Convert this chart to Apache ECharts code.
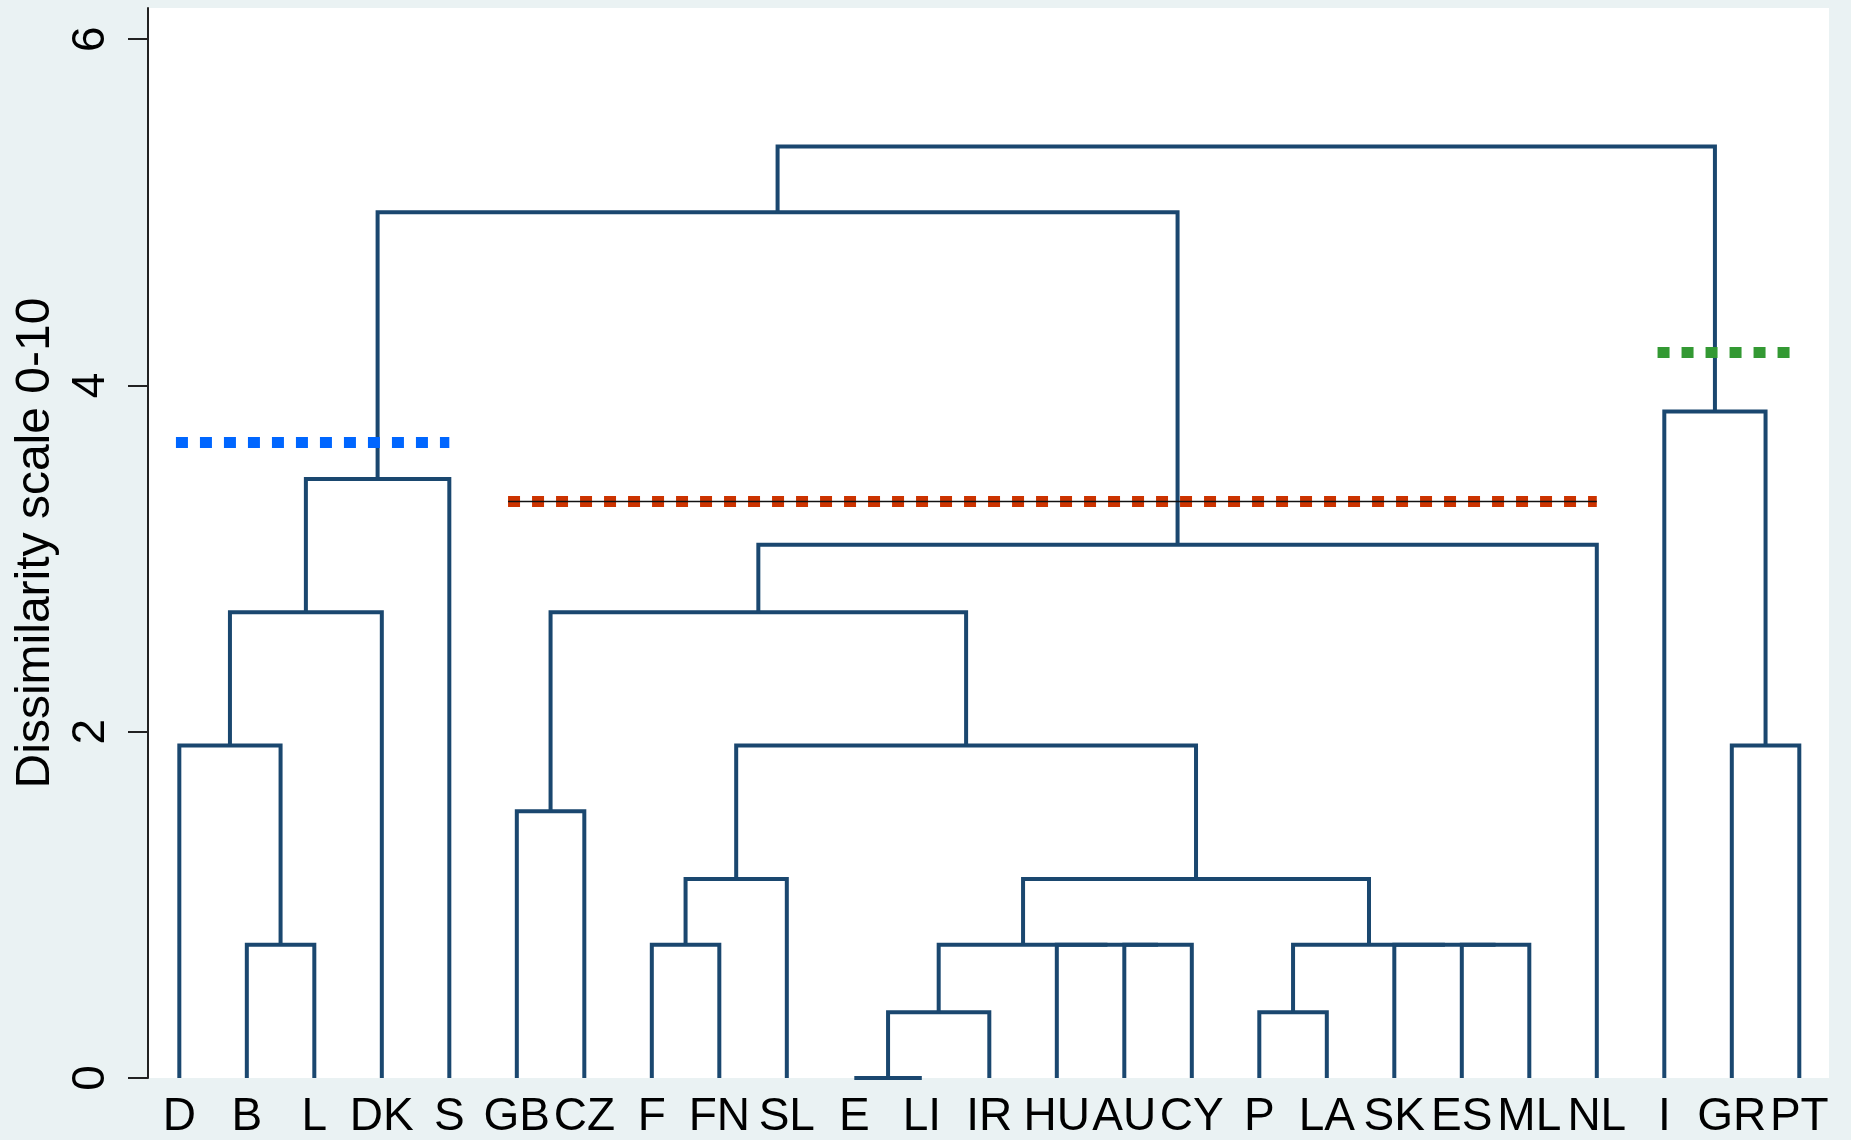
<!DOCTYPE html>
<html>
<head>
<meta charset="utf-8">
<script src="https://cdn.jsdelivr.net/npm/echarts@6/dist/echarts.min.js"></script>
<style>
html,body{margin:0;padding:0;background:#eaf2f3;}
#chart{width:1851px;height:1140px;}
</style>
</head>
<body>
<div id="chart"></div>
<script>
// ---- data ----
const leaves = ['D','B','L','DK','S','GB','CZ','F','FN','SL','E','LI','IR','HU','AU','CY','P','LA','SK','ES','ML','NL','I','GR','PT'];
// merge k (1-based) creates node 'mk' joining mergeA[k-1] and mergeB[k-1] at mergeHeight[k-1]
const mergeA = ['B','D','m2','m3','GB','F','m6','E','m8','AU','HU','m9','P','ES','SK','m13','m12','m7','m5','m19','m4','GR','I','m21'];
const mergeB = ['L','m1','DK','S','CZ','FN','SL','LI','IR','CY','m10','m11','LA','ML','m14','m15','m16','m17','m18','NL','m20','PT','m22','m23'];
const mergeHeight = [0.77,1.92,2.69,3.46,1.54,0.77,1.15,0,0.38,0.77,0.77,0.77,0.38,0.77,0.77,0.77,1.15,1.92,2.69,3.08,5.0,1.92,3.85,5.38];
const yTicks = [0,2,4,6];
// horizontal cut lines: height, start leaf position, end leaf position
const cutHeight = [3.67, 3.33, 4.19];
const cutFrom = [0.95, 5.87, 22.9];
const cutTo = [5.0, 22.0, 24.86];

// ---- build ----
const cutColors = ['#0066ff', '#cc3300', '#339933'];
const pos = {}, hgt = {};
leaves.forEach((l, i) => { pos[l] = i + 1; hgt[l] = 0; });
const series = [];
mergeA.forEach((a, i) => {
  const b = mergeB[i], h = mergeHeight[i], id = 'm' + (i + 1);
  series.push({
    type: 'line', symbol: 'none', silent: true, animation: false,
    data: [[pos[a], hgt[a]], [pos[a], h], [pos[b], h], [pos[b], hgt[b]]],
    lineStyle: { color: '#1a476f', width: 4, join: 'miter', cap: 'butt' },
    clip: false, z: 2
  });
  pos[id] = (pos[a] + pos[b]) / 2; hgt[id] = h;
});
cutHeight.forEach((h, i) => {
  series.push({
    type: 'line', symbol: 'none', silent: true, animation: false,
    data: [[cutFrom[i], h], [cutTo[i], h]],
    lineStyle: { color: cutColors[i], width: 11, type: [12, 12], cap: 'butt' },
    z: 3
  });
  if (i === 1) {
    series.push({
      type: 'line', symbol: 'none', silent: true, animation: false,
      data: [[cutFrom[i], h], [cutTo[i], h]],
      lineStyle: { color: '#111', width: 1.5 },
      z: 4
    });
  }
});

const chart = echarts.init(document.getElementById('chart'), null, { renderer: 'canvas' });
const font = '"Liberation Sans", Arial, sans-serif';
chart.setOption({
  backgroundColor: '#eaf2f3',
  animation: false,
  grid: { left: 148, right: 22, top: 8, bottom: 59, show: true, backgroundColor: '#ffffff', borderWidth: 0 },
  xAxis: {
    type: 'value', min: 0.536, max: 25.44,
    axisLine: { show: false }, axisTick: { show: false }, splitLine: { show: false },
    axisLabel: {
      customValues: leaves.map((_, i) => i + 1),
      formatter: v => leaves[Math.round(v) - 1],
      fontSize: 46, fontFamily: font, color: '#000', margin: 16
    }
  },
  yAxis: {
    type: 'value', min: 0, max: 6.18,
    name: 'Dissimilarity scale 0-10', nameLocation: 'middle', nameRotate: 90, nameGap: 80,
    nameTextStyle: { fontSize: 48, fontFamily: font, color: '#000' },
    axisLine: { show: true, lineStyle: { color: '#222', width: 2 } },
    axisTick: { show: true, length: 20, customValues: yTicks, lineStyle: { color: '#222', width: 2 } },
    splitLine: { show: false },
    axisLabel: { customValues: yTicks, rotate: 90, fontSize: 46, fontFamily: font, color: '#000', margin: 34 }
  },
  series: series
});
</script>
</body>
</html>
